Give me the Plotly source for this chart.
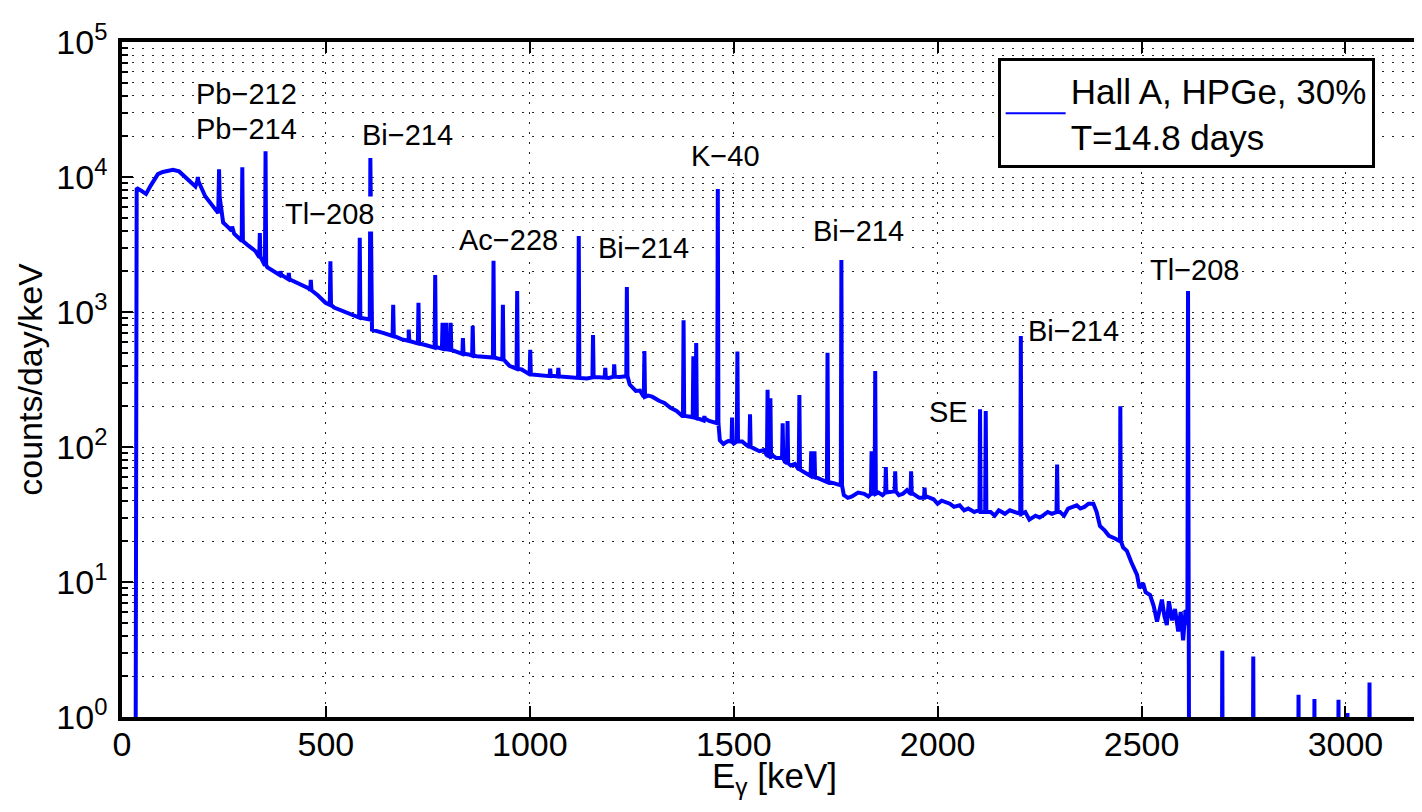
import math
import plotly.graph_objects as go

# Continuum of the spectrum (energy in keV, counts/day/keV)
cont_e = [33, 36, 45, 59, 70, 80, 88, 100, 125, 140,
          162, 180, 204, 236, 248, 262, 275, 292, 310, 327,
          340, 349, 356, 375, 391, 420, 440, 457, 480, 499,
          520, 538, 560, 587, 603, 613, 640, 661, 685, 703,
          720, 744, 775, 790, 820, 850, 870, 890, 907, 925,
          950, 980, 1005, 1030, 1060, 1090, 1113, 1140, 1170, 1194,
          1220, 1232, 1245, 1260, 1270, 1290, 1300, 1317, 1330, 1345,
          1360, 1374, 1390, 1420, 1430, 1440, 1450, 1457, 1466, 1475,
          1480, 1490, 1500, 1521, 1530, 1548, 1563, 1575, 1596, 1604,
          1615, 1625, 1640, 1650, 1670, 1686, 1700, 1710, 1720, 1745,
          1759, 1770, 1780, 1790, 1805, 1820, 1830, 1855, 1865, 1890,
          1905, 1915, 1925, 1940, 1955, 1973, 1990, 2000, 2010, 2030,
          2040, 2054, 2065, 2075, 2090, 2100, 2130, 2140, 2150, 2165,
          2177, 2190, 2200, 2215, 2225, 2240, 2250, 2258, 2270, 2280,
          2300, 2310, 2320, 2330, 2341, 2350, 2360, 2370, 2382, 2390,
          2398, 2410, 2420, 2435, 2447, 2455, 2464, 2475, 2489, 2495,
          2504, 2510, 2521, 2530, 2538, 2550, 2556, 2562, 2567, 2575,
          2582, 2590, 2596, 2602, 2608, 2612, 2617, 3200]
cont_c = [0.1, 8300, 8000, 7500, 8600, 9800, 10500, 10900, 11300, 11000,
          9600, 8500, 7200, 5400, 4600, 4200, 3800, 3400, 3100, 2830,
          2550, 2250, 2150, 2000, 1880, 1700, 1600, 1500, 1330, 1170,
          1080, 1030, 960, 905, 880, 740, 700, 665, 630, 610,
          590, 570, 545, 530, 505, 485, 470, 465, 460, 450,
          400, 375, 345, 340, 335, 330, 325, 322, 328, 325,
          330, 335, 290, 260, 262, 240, 236, 220, 212, 195,
          185, 170, 168, 158, 162, 156, 152, 150, 112, 105,
          108, 112, 106, 110, 104, 98, 93, 95, 86, 83,
          84, 78, 73, 75, 66, 62, 60, 58, 56, 54,
          52, 44, 42, 43, 46, 45, 43, 46, 44, 47,
          44, 45, 48, 45, 42, 43, 41, 38, 40, 38,
          36, 37, 34, 35, 33, 34, 33, 31, 34, 32,
          34, 33, 32, 33, 29, 31, 30, 31, 33, 32,
          33, 31, 35, 36, 37, 35, 36, 38, 38, 33,
          26, 24, 22, 21, 20, 18, 17, 14, 11.3, 9.0,
          9.8, 8.4, 8.0, 6.6, 5.1, 7.4, 5.6, 4.8, 7.2, 5.2,
          6.3, 4.3, 6.0, 3.7, 6.2, 4.8, 0.1, 0.1]

# Gamma lines: energy, top of the peak, continuum under the peak
peak_e = [186, 238, 270, 295, 338, 352, 388, 409, 463, 511,
          583, 609, 665, 703, 727, 768, 786, 795, 806, 836,
          860, 911, 934, 969, 1001, 1050, 1070, 1120, 1155, 1185,
          1207, 1238, 1281, 1377, 1401, 1408, 1428, 1461, 1496, 1509,
          1540, 1583, 1590, 1620, 1632, 1661, 1690, 1698, 1730, 1764,
          1838, 1847, 1873, 1896, 1935, 1968, 2104, 2118, 2204, 2293,
          2448, 2614, 2698, 2774, 2885, 2924, 2983, 3005, 3059]
peak_top = [10000, 11400, 4300, 11800, 3850, 15500, 2000, 1950, 1730, 2380,
            3540, 13800, 1130, 740, 1170, 1880, 830, 830, 830, 640,
            790, 2400, 1130, 1430, 525, 380, 385, 3650, 675, 385,
            410, 1530, 515, 870, 470, 590, 170, 8150, 165, 510,
            175, 265, 230, 150, 156, 243, 93, 93, 500, 2430,
            93, 365, 71, 66, 66, 50, 190, 185, 665, 74,
            200, 1430, 3.1, 2.8, 1.46, 1.36, 1.34, 1.07, 1.8]
peak_base = [9300, 7100, 4000, 3350, 2550, 2250, 1880, 1750, 1450, 1130,
             910, 880, 665, 610, 585, 545, 535, 530, 525, 490,
             475, 460, 445, 380, 345, 335, 333, 325, 328, 326,
             332, 335, 235, 170, 166, 164, 157, 150, 108, 110,
             100, 86, 85, 83, 76, 68, 61, 60, 55, 52,
             45, 45, 46, 47, 45, 42, 33, 33, 32, 33,
             20, 5.8, 0.1, 0.1, 0.1, 0.1, 0.1, 0.1, 0.1]

# Isotope labels
label_text = ["Pb\u2212212", "Pb\u2212214", "Bi\u2212214", "Tl\u2212208", "Ac\u2212228",
              "Bi\u2212214", "K\u221240", "Bi\u2212214", "SE", "Bi\u2212214", "Tl\u2212208"]
label_e = [305, 305, 700, 509, 948, 1278, 1479, 1806, 2027, 2334, 2631]
label_c = [41200, 22700, 20500, 5300, 3400, 2980, 14300, 3980, 182, 725, 2040]

assert len(cont_e) == len(cont_c)
assert len(peak_e) == len(peak_top) == len(peak_base)

# merge continuum and peaks into one spectrum
pts = list(zip(cont_e, cont_c))
for e, top, base in zip(peak_e, peak_top, peak_base):
    pts += [(e - 1.5, base), (e, top), (e + 1.5, base)]
pts.sort()
spec_e = [p[0] for p in pts]
spec_c = [p[1] for p in pts]

FONT = "Liberation Sans, Arial, Helvetica, sans-serif"
GRID_DASH = "2px,8px"
GRID_COLOR = "rgba(0,0,0,0.85)"

fig = go.Figure()

fig.add_trace(
    go.Scatter(
        x=spec_e,
        y=spec_c,
        mode="lines",
        line=dict(color="#0000ff", width=4),
        showlegend=False,
    )
)

# legend entry
fig.add_trace(
    go.Scatter(
        x=[None],
        y=[None],
        mode="lines",
        line=dict(color="#0000ff", width=2),
        name="Hall A, HPGe, 30%<br>T=14.8 days",
    )
)

for txt, e, c in zip(label_text, label_e, label_c):
    fig.add_annotation(
        x=e,
        y=math.log10(c),
        text=txt,
        showarrow=False,
        bgcolor="white",
        font=dict(size=29, color="black", family=FONT),
    )

# x axis title, placed by hand to sit closer to the tick labels
fig.add_annotation(
    x=0.5,
    y=-0.09,
    xref="paper",
    yref="paper",
    yanchor="middle",
    text="E<sub>\u03b3</sub> [keV]",
    showarrow=False,
    font=dict(size=35, color="black", family=FONT),
)

decades = [0, 1, 2, 3, 4, 5]
minor_vals = [m * 10 ** d for d in decades[:-1] for m in range(2, 10)]

fig.update_layout(
    width=1422,
    height=812,
    margin=dict(l=114, r=3, t=34, b=103),
    plot_bgcolor="white",
    paper_bgcolor="white",
    font=dict(family=FONT, color="black"),
    legend=dict(
        x=0.671,
        y=0.976,
        xanchor="left",
        yanchor="top",
        bgcolor="white",
        bordercolor="black",
        borderwidth=3,
        font=dict(size=35, family=FONT),
        itemwidth=60,
    ),
    xaxis=dict(
        range=[0, 3200],
        tickvals=[0, 500, 1000, 1500, 2000, 2500, 3000],
        ticks="inside",
        ticklen=11,
        tickwidth=2,
        tickcolor="black",
        showline=True,
        linewidth=3.5,
        linecolor="black",
        mirror="ticks",
        showgrid=True,
        gridcolor=GRID_COLOR,
        gridwidth=1,
        griddash=GRID_DASH,
        zeroline=False,
        automargin=False,
        tickfont=dict(size=34),
        ticklabelstandoff=-6,
    ),
    yaxis=dict(
        type="log",
        range=[0, 5],
        tickmode="array",
        tickvals=[10 ** d for d in decades],
        ticktext=["10<sup>%d</sup>" % d for d in decades],
        ticks="inside",
        ticklen=11,
        tickwidth=2,
        tickcolor="black",
        showline=True,
        linewidth=3.5,
        linecolor="black",
        mirror="ticks",
        showgrid=True,
        gridcolor=GRID_COLOR,
        gridwidth=1,
        griddash=GRID_DASH,
        zeroline=False,
        automargin=False,
        tickfont=dict(size=34),
        ticklabelstandoff=4,
        minor=dict(
            tickmode="array",
            tickvals=minor_vals,
            ticks="inside",
            ticklen=6,
            tickwidth=2,
            tickcolor="black",
            showgrid=True,
            gridcolor=GRID_COLOR,
            gridwidth=1,
            griddash=GRID_DASH,
        ),
        title=dict(text="counts/day/keV", font=dict(size=34), standoff=4),
    ),
)

fig.write_html("out.html")
